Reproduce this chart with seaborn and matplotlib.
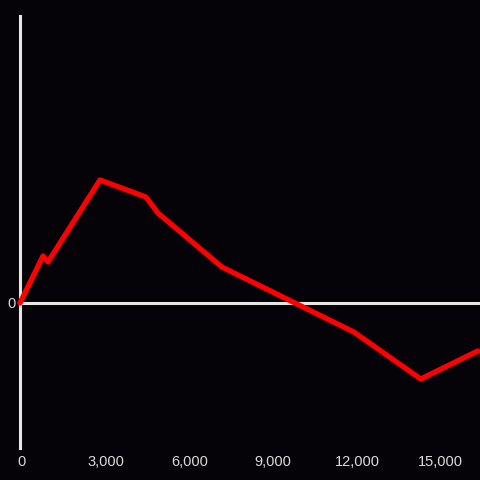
import pandas as pd
import matplotlib.pyplot as plt
import matplotlib.transforms as mtransforms
import seaborn as sns
from matplotlib.ticker import FuncFormatter

# Werte
x_vals = [0, 823, 1003, 2864, 4511, 4941, 7232, 11958, 14357, 16398]
y_vals = [0, 47, 41, 123, 106, 90, 36, -29, -76, -48]
x_ticks = [0, 3000, 6000, 9000, 12000, 15000]

bg = '#050307'
fg = '#dcdcdc'

sns.set_style('dark', {'axes.facecolor': bg, 'figure.facecolor': bg})
plt.rcParams['font.family'] = ['Liberation Sans', 'DejaVu Sans']

df = pd.DataFrame({'x': x_vals, 'y': y_vals})

fig = plt.figure(figsize=(4.8, 4.8), dpi=100)
ax = fig.add_axes([20 / 480, 32 / 480, 460 / 480, 432 / 480])

ax.axhline(0, color='#e6e6e6', lw=2.2, zorder=1)
sns.lineplot(data=df, x='x', y='y', ax=ax, color='#ff0000', lw=3.8, zorder=3,
             solid_joinstyle='round', solid_capstyle='round', clip_on=False)

ax.set_xlim(0, 16480)
ax.set_ylim(-145, 287)

for s in ['top', 'right', 'bottom']:
    ax.spines[s].set_visible(False)
ax.spines['left'].set_color('#e6e6e6')
ax.spines['left'].set_linewidth(2.2)
ax.spines['left'].set_zorder(2)

ax.set_xticks(x_ticks)
ax.xaxis.set_major_formatter(FuncFormatter(lambda v, p: f'{int(v):,}'))
ax.set_yticks([0])
ax.tick_params(axis='both', length=0, colors=fg, labelsize=10.5)
ax.tick_params(axis='x', pad=5)
ax.tick_params(axis='y', pad=3)
ax.set_xlabel('')
ax.set_ylabel('')
ax.grid(False)

# x-Beschriftungen etwas nach rechts schieben
shift = mtransforms.ScaledTranslation(2 / 100, 0, fig.dpi_scale_trans)
for lbl in ax.get_xticklabels():
    lbl.set_transform(lbl.get_transform() + shift)

fig.savefig('out.png', dpi=100, facecolor=bg)
